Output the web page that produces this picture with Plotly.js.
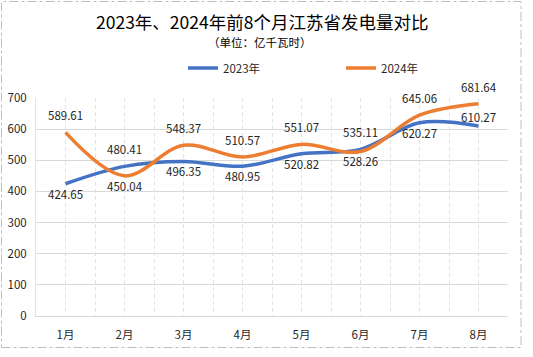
<!DOCTYPE html>
<html>
<head>
<meta charset="utf-8">
<script src="https://cdn.plot.ly/plotly-3.0.1.min.js"></script>
<style>
html,body{margin:0;padding:0;background:#fff;}
#chart{width:533px;height:357px;}
</style>
</head>
<body>
<div id="chart"></div>
<script>
var categories = ["1月","2月","3月","4月","5月","6月","7月","8月"];
var series2023 = [424.65, 480.41, 496.35, 480.95, 520.82, 535.11, 620.27, 610.27];
var series2024 = [589.61, 450.04, 548.37, 510.57, 551.07, 528.26, 645.06, 681.64];
var yTicks = [0, 100, 200, 300, 400, 500, 600, 700];

// label placement (style only): +1 above, -1 below
var pos2023 = [-1, 1, -1, -1, -1, 1, -1, 0.5];
var pos2024 = [1, -1, 1, 1, 1, -1, 1, 1];

var FONT = '"Noto Sans CJK SC", "Noto Sans", sans-serif';
var BLUE = '#4472C4', ORANGE = '#ED7D31';
var W = 533, H = 357;
var M = {l: 36, r: 25, t: 98, b: 41};
var xs = categories.map(function(c, i){ return i; });

var traces = [
  {x: xs, y: series2023, name: '2023年', type: 'scatter', mode: 'lines',
   line: {color: BLUE, width: 3.5, shape: 'spline', smoothing: 1}, hoverinfo: 'skip'},
  {x: xs, y: series2024, name: '2024年', type: 'scatter', mode: 'lines',
   line: {color: ORANGE, width: 3.5, shape: 'spline', smoothing: 1}, hoverinfo: 'skip'}
];

var annotations = [];
function addLabels(vals, pos) {
  vals.forEach(function(v, i){
    var shift = pos[i] >= 1 ? 17 : (pos[i] > 0 ? 9 : -10);
    annotations.push({x: xs[i], y: v, xref: 'x', yref: 'y', text: v.toFixed(2),
      showarrow: false, yshift: shift, xanchor: 'center', yanchor: 'middle',
      font: {family: FONT, size: 11.5, color: '#262626'}});
  });
}
addLabels(series2023, pos2023);
addLabels(series2024, pos2024);

var pw = W - M.l - M.r, ph = H - M.t - M.b;
function px2x(p){ return (p - M.l) / pw; }
function py2y(p){ return (H - M.b - p) / ph; }

annotations.push({xref: 'paper', yref: 'paper', x: px2x(261.5), y: py2y(21), xanchor: 'center', yanchor: 'middle',
  text: '2023年、2024年前8个月江苏省发电量对比', showarrow: false,
  font: {family: FONT, size: 17.5, color: '#000'}});
annotations.push({xref: 'paper', yref: 'paper', x: px2x(260), y: py2y(42.5), xanchor: 'center', yanchor: 'middle',
  text: '（单位：亿千瓦时）', showarrow: false,
  font: {family: FONT, size: 11.5, color: '#000'}});

var layout = {
  width: W, height: H,
  margin: M,
  paper_bgcolor: '#fff', plot_bgcolor: '#fff',
  showlegend: true,
  legend: {orientation: 'h', x: px2x(183), y: py2y(68), xanchor: 'left', yanchor: 'middle',
    font: {family: FONT, size: 11.5, color: '#262626'}, entrywidth: 113, entrywidthmode: 'pixels',
    itemclick: false},
  xaxis: {
    range: [-0.5, 7.5], tickvals: xs, ticktext: categories,
    showgrid: true, gridcolor: '#e3e3e3', griddash: '4px,3px', gridwidth: 1,
    minor: {tick0: -0.5, dtick: 1, showgrid: true, gridcolor: '#e3e3e3', griddash: '4px,3px', gridwidth: 1},
    zeroline: false, showline: true, linecolor: '#d9d9d9', linewidth: 1,
    ticks: '', tickfont: {family: FONT, size: 11.5, color: '#262626'}, ticklabelstandoff: 8,
    fixedrange: true
  },
  yaxis: {
    range: [0, 700], tickvals: yTicks, ticktext: yTicks.map(String),
    showgrid: true, gridcolor: '#d9d9d9', gridwidth: 1,
    zeroline: false, showline: true, linecolor: '#e3e3e3', linewidth: 1,
    ticks: '', tickfont: {family: FONT, size: 11.5, color: '#262626'}, ticklabelstandoff: 6,
    fixedrange: true
  },
  annotations: annotations,
  shapes: [{type: 'rect', xref: 'paper', yref: 'paper',
    x0: px2x(1.5), x1: px2x(521), y0: py2y(347.5), y1: py2y(1.5),
    line: {color: '#bfbfbf', width: 1, dash: 'dashdot'}, layer: 'below'}]
};

Plotly.newPlot('chart', traces, layout, {displayModeBar: false, staticPlot: true});
</script>
</body>
</html>
